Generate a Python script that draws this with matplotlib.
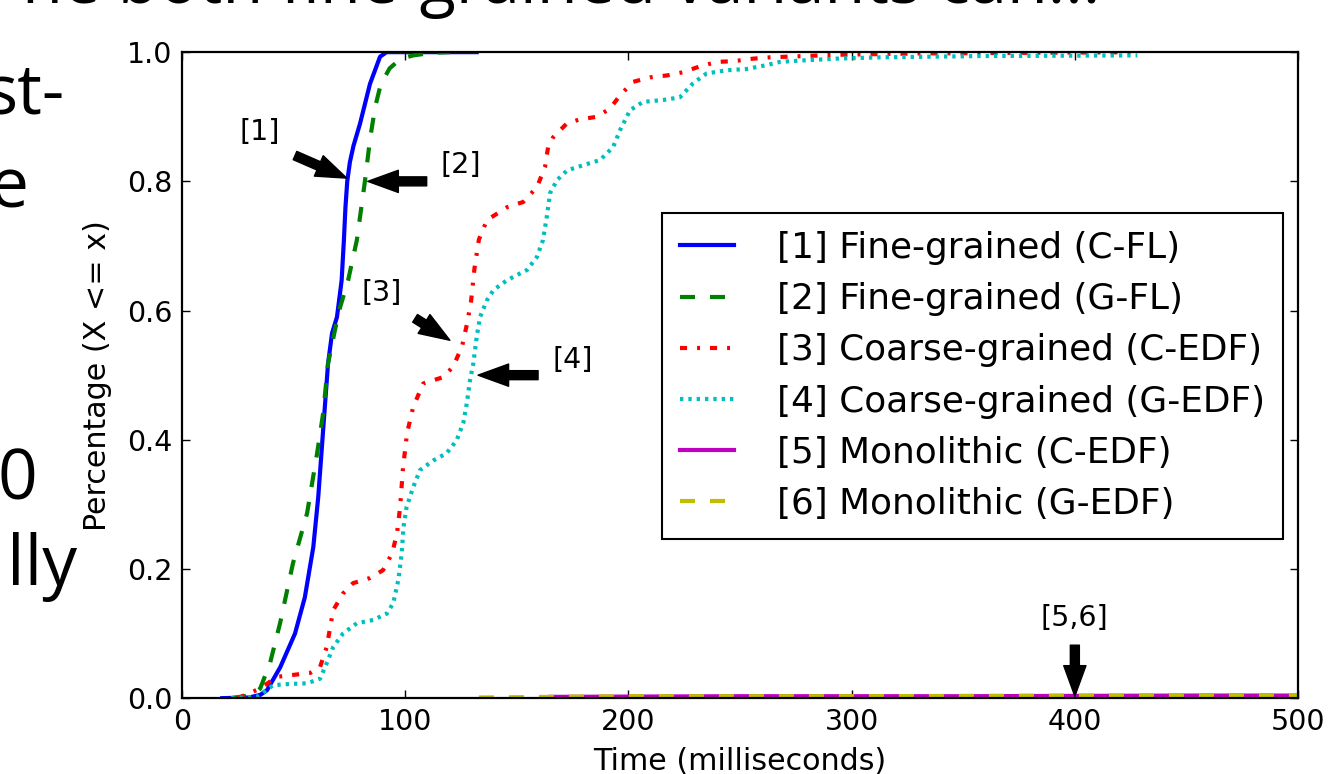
import matplotlib
matplotlib.use('Agg')
import matplotlib.pyplot as plt

# CDF of task completion time (ms) per variant
fl_c_x = [18, 30, 35, 38, 44, 50.6, 55, 58.8, 61, 63.2, 65.4, 67.2, 69.4, 71.5, 72.5, 73.2,
          74, 75.2, 76.8, 79.7, 84.2, 88.7, 91.6, 110, 132]
fl_c_y = [0.0, 0.001, 0.005, 0.012, 0.048, 0.10, 0.156, 0.234, 0.311, 0.415, 0.518, 0.565,
          0.59, 0.647, 0.709, 0.76, 0.80, 0.83, 0.855, 0.889, 0.951, 0.993, 1.0, 1.0, 1.0]

fl_g_x = [22, 32, 35, 39.4, 43.9, 49.7, 56, 60.5, 63.2, 65.4, 68.5, 70.8, 74.4, 78.3, 82,
          84.2, 86.5, 89, 93, 98, 103.6, 112, 120]
fl_g_y = [0.0, 0.005, 0.015, 0.054, 0.116, 0.209, 0.286, 0.379, 0.441, 0.518, 0.57, 0.605,
          0.647, 0.709, 0.802, 0.865, 0.915, 0.95, 0.975, 0.99, 0.995, 0.999, 1.0]

edf_c_x = [25, 35, 42.5, 49.8, 57.4, 61.8, 64.8, 67.7, 72.1, 76.6, 84.2, 90, 94.1, 96.3,
           97.7, 99, 100.8, 103.5, 108, 117, 121.4, 125.4, 127.7, 129.5, 131, 133, 136.6,
           145.6, 152.8, 159, 162.6, 164, 166.2, 172.5, 178.3, 185.9, 191.8, 196.2, 202,
           209.7, 217.3, 224.5, 232, 239.7, 247, 256, 263.4, 278.7, 294, 330, 380, 428]
edf_c_y = [0.0, 0.015, 0.033, 0.036, 0.039, 0.048, 0.079, 0.136, 0.162, 0.178, 0.186, 0.198,
           0.224, 0.255, 0.296, 0.357, 0.41, 0.45, 0.487, 0.497, 0.513, 0.544, 0.58, 0.615,
           0.665, 0.71, 0.74, 0.76, 0.768, 0.791, 0.822, 0.853, 0.868, 0.89, 0.896, 0.9,
           0.913, 0.933, 0.954, 0.961, 0.964, 0.969, 0.978, 0.985, 0.986, 0.99, 0.992, 0.994,
           0.996, 0.998, 0.999, 1.0]

edf_g_x = [22, 33.6, 40.8, 48.4, 56, 61.8, 64.8, 67.7, 72.1, 78.3, 85.6, 91.8, 94.6, 96.9,
           98.4, 99.2, 100.6, 103.6, 106.6, 112.6, 118.5, 123, 126, 127.6, 129, 130.5, 132,
           133.5, 136.6, 139.6, 145.6, 154.6, 159, 161.7, 163.4, 164.9, 168, 172.5, 179.7,
           187.3, 193.1, 196.2, 200.7, 206.5, 215.5, 223, 229, 235, 244, 253, 262, 268, 277,
           293, 313, 358, 428]
edf_g_y = [0.0, 0.002, 0.02, 0.022, 0.023, 0.03, 0.054, 0.079, 0.1, 0.116, 0.121, 0.131,
           0.147, 0.183, 0.224, 0.265, 0.296, 0.327, 0.353, 0.368, 0.379, 0.399, 0.426,
           0.457, 0.492, 0.518, 0.559, 0.59, 0.616, 0.632, 0.647, 0.663, 0.683, 0.709,
           0.745, 0.782, 0.802, 0.817, 0.825, 0.833, 0.853, 0.879, 0.91, 0.923, 0.926, 0.93,
           0.952, 0.967, 0.972, 0.974, 0.98, 0.985, 0.987, 0.99, 0.992, 0.994, 0.995]

mono_c_x = [165, 250, 350, 450, 550]
mono_c_y = [0.002, 0.003, 0.003, 0.004, 0.004]
mono_g_x = [133, 200, 300, 400, 550]
mono_g_y = [0.001, 0.003, 0.003, 0.004, 0.004]

labels = ['[1] Fine-grained (C-FL)', '[2] Fine-grained (G-FL)',
          '[3] Coarse-grained (C-EDF)', '[4] Coarse-grained (G-EDF)',
          '[5] Monolithic (C-EDF)', '[6] Monolithic (G-EDF)']

fs = 20.5

fig = plt.figure(figsize=(13.29, 7.74), dpi=100)
ax = fig.add_axes([0.137, 0.098, 0.8397, 0.8346])

ax.plot(fl_c_x, fl_c_y, color='b', lw=3, label=labels[0])
ax.plot(fl_g_x, fl_g_y, color='g', lw=3, ls=(0, (3.6, 3.6)), label=labels[1])
ax.plot(edf_c_x, edf_c_y, color='r', lw=3, ls=(0, (1.7, 2.4, 0.7, 2.4)), label=labels[2])
ax.plot(edf_g_x, edf_g_y, color='c', lw=3, ls=(0, (0.8, 1.2)), label=labels[3])
ax.plot(mono_c_x, mono_c_y, color='m', lw=3, label=labels[4])
ax.plot(mono_g_x, mono_g_y, color='y', lw=3, ls=(0, (3.6, 3.6)), label=labels[5])

ax.set_xlim(0, 500)
ax.set_ylim(0, 1.0)
ax.set_xticks([0, 100, 200, 300, 400, 500])
ax.set_yticks([0.0, 0.2, 0.4, 0.6, 0.8, 1.0])
ax.tick_params(direction='in', top=True, right=True, length=6, width=1,
               labelsize=fs, pad=7)
for s in ax.spines.values():
    s.set_linewidth(1.6)
ax.set_xlabel('Time (milliseconds)', fontsize=21.7, labelpad=8)
ax.set_ylabel('Percentage (X <= x)', fontsize=21.7, labelpad=11)

leg = ax.legend(loc='upper left', bbox_to_anchor=(0.430, 0.751), borderaxespad=0,
                fontsize=25.8, fancybox=False, framealpha=1, edgecolor='black',
                handlelength=1.5, handletextpad=1.2, labelspacing=0.48, borderpad=0.5)
leg.get_frame().set_linewidth(1.5)

# callouts: (text, text pos, arrow tail, arrow tip)
notes = [('[1]', (35, 0.876), (50.6, 0.84), (73.8, 0.805)),
         ('[2]', (125, 0.825), (109.6, 0.80), (83.2, 0.80)),
         ('[3]', (89.6, 0.627), (104.4, 0.588), (120, 0.554)),
         ('[4]', (175, 0.523), (159.5, 0.50), (132.6, 0.50)),
         ('[5,6]', (400, 0.124), (400, 0.082), (400, 0.003))]
for txt, tpos, tail, tip in notes:
    ax.text(tpos[0], tpos[1], txt, fontsize=fs, ha='center', va='center')
    ax.annotate('', xy=tip, xytext=tail,
                arrowprops=dict(facecolor='black', edgecolor='black', width=6.5,
                                headwidth=16, headlength=22, shrink=0))

# slide text around the embedded chart
fig.text(1100 / 1329, 1 - 3 / 774, 'ne both fine-grained variants can...', ha='right',
         va='baseline', fontsize=48, family='Open Sans')
for txt, xr, yb in [('st-', 65, 113), ('e', 28, 208), ('0', 37, 500), ('lly', 77, 585)]:
    fig.text(xr / 1329, 1 - yb / 774, txt, ha='right', va='baseline', fontsize=50,
             family='Open Sans')

fig.savefig('out.png', dpi=100)
